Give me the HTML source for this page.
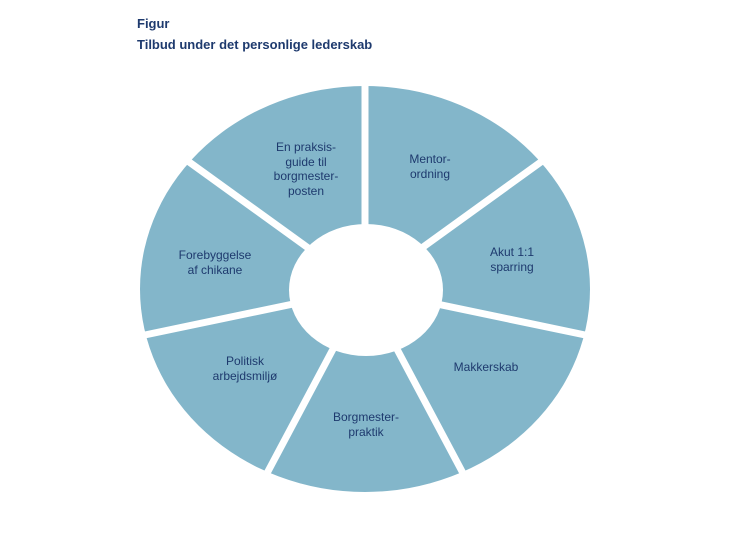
<!DOCTYPE html>
<html><head><meta charset="utf-8"><style>
html,body{margin:0;padding:0;background:#fff;}
body{width:750px;height:536px;position:relative;overflow:hidden;font-family:"Liberation Sans",sans-serif;}
.t{position:absolute;left:137px;color:#1e3a6e;font-weight:bold;font-size:13px;}
svg{position:absolute;left:0;top:0;}
</style></head><body>
<div class="t" style="top:16px">Figur</div>
<div class="t" style="top:37px">Tilbud under det personlige lederskab</div>
<svg width="750" height="536" viewBox="0 0 750 536">
<ellipse cx="365" cy="289" rx="225" ry="203" fill="#83b6ca"/>
<g stroke="#fff" stroke-width="7">
<line x1="365" y1="289" x2="365" y2="80"/>
<line x1="365" y1="289" x2="545" y2="159"/>
<line x1="365" y1="289" x2="590" y2="336"/>
<line x1="365" y1="289" x2="465" y2="477"/>
<line x1="365" y1="289" x2="265" y2="477"/>
<line x1="365" y1="289" x2="140" y2="336"/>
<line x1="365" y1="289" x2="185" y2="159"/>
</g>
<ellipse cx="366" cy="290" rx="77" ry="66" fill="#fff"/>
<g font-family="Liberation Sans, sans-serif" font-size="12" fill="#1e3a6e" text-anchor="middle">
<text x="430" y="163">Mentor-</text><text x="430" y="178">ordning</text>
<text x="512" y="256">Akut 1:1</text><text x="512" y="271">sparring</text>
<text x="486" y="371">Makkerskab</text>
<text x="366" y="421">Borgmester-</text><text x="366" y="436">praktik</text>
<text x="245" y="365">Politisk</text><text x="245" y="380">arbejdsmiljø</text>
<text x="215" y="259">Forebyggelse</text><text x="215" y="274">af chikane</text>
<text x="306" y="151">En praksis-</text><text x="306" y="166">guide til</text><text x="306" y="180">borgmester-</text><text x="306" y="195">posten</text>
</g>
</svg>
</body></html>
